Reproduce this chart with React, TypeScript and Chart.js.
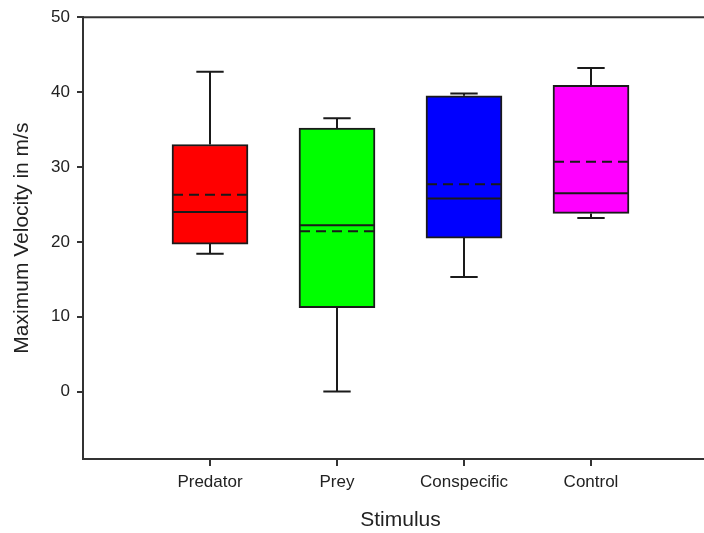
import React, { useEffect, useRef } from "react";
import { Chart, registerables } from "chart.js";

Chart.register(...registerables);

const categories = ["Predator", "Prey", "Conspecific", "Control"];
const whiskerLow = [18.4, 0.0, 15.3, 23.2];
const q1 = [19.7, 11.2, 20.5, 23.8];
const median = [24.0, 22.2, 25.8, 26.5];
const mean = [26.3, 21.4, 27.7, 30.7];
const q3 = [33.0, 35.2, 39.5, 40.9];
const whiskerHigh = [42.7, 36.5, 39.8, 43.2];
const boxColors = ["#FF0000", "#00FF00", "#0000FF", "#FF00FF"];
const yTicks = [0, 10, 20, 30, 40, 50];
const xTicks = [1, 2, 3, 4];

const FONT = "'Liberation Sans', Arial, sans-serif";
const LINE = "#1a1a1a";
const AXIS = "#333333";

const boxPlugin = {
  id: "boxExtras",
  afterDatasetsDraw(chart: any) {
    const { ctx, scales, chartArea } = chart;
    const x = scales.x;
    const y = scales.y;
    const meta = chart.getDatasetMeta(0);
    ctx.save();
    // top frame line
    ctx.strokeStyle = AXIS;
    ctx.lineWidth = 2;
    ctx.beginPath();
    ctx.moveTo(chartArea.left, y.getPixelForValue(50));
    ctx.lineTo(chartArea.right, y.getPixelForValue(50));
    ctx.stroke();

    ctx.strokeStyle = LINE;
    ctx.lineWidth = 2;
    categories.forEach((_, i) => {
      const el = meta.data[i];
      const cx = x.getPixelForValue(xTicks[i]);
      const w = el ? el.width : 76;
      const capHalf = w * 0.18;
      const left = cx - w / 2;
      const right = cx + w / 2;
      const pLow = y.getPixelForValue(whiskerLow[i]);
      const pQ1 = y.getPixelForValue(q1[i]);
      const pQ3 = y.getPixelForValue(q3[i]);
      const pHigh = y.getPixelForValue(whiskerHigh[i]);
      const pMed = y.getPixelForValue(median[i]);
      const pMean = y.getPixelForValue(mean[i]);
      ctx.setLineDash([]);
      ctx.beginPath();
      ctx.moveTo(cx, pQ3);
      ctx.lineTo(cx, pHigh);
      ctx.moveTo(cx - capHalf, pHigh);
      ctx.lineTo(cx + capHalf, pHigh);
      ctx.moveTo(cx, pQ1);
      ctx.lineTo(cx, pLow);
      ctx.moveTo(cx - capHalf, pLow);
      ctx.lineTo(cx + capHalf, pLow);
      ctx.moveTo(left, pMed);
      ctx.lineTo(right, pMed);
      ctx.stroke();
      ctx.setLineDash([10, 6]);
      ctx.beginPath();
      ctx.moveTo(left + 1, pMean);
      ctx.lineTo(right, pMean);
      ctx.stroke();
    });
    ctx.restore();
  },
};

export default function App() {
  const ref = useRef<HTMLCanvasElement | null>(null);
  useEffect(() => {
    if (!ref.current) return;
    const chart = new Chart(ref.current, {
      type: "bar",
      data: {
        datasets: [
          {
            data: categories.map((_, i) => ({ x: xTicks[i], y: [q1[i], q3[i]] })) as any,
            backgroundColor: boxColors,
            borderColor: LINE,
            borderWidth: 2,
            borderSkipped: false,
            barThickness: 76,
          },
        ],
      },
      options: {
        animation: false,
        responsive: false,
        layout: { padding: { top: 16, right: 0, left: 0, bottom: 0 } },
        plugins: { legend: { display: false }, tooltip: { enabled: false } },
        scales: {
          x: {
            type: "linear",
            min: 0,
            max: 5,
            offset: false,
            afterBuildTicks: (s: any) => {
              s.ticks = xTicks.map((v) => ({ value: v }));
            },
            afterFit: (s: any) => {
              s.height = 74;
            },
            ticks: {
              callback: (v: any) => categories[Number(v) - 1] ?? "",
              font: { family: FONT, size: 17 },
              color: "#222",
              padding: 6,
              maxRotation: 0,
              autoSkip: false,
            },
            grid: {
              offset: false,
              drawOnChartArea: false,
              drawTicks: true,
              tickLength: 7,
              color: AXIS,
              lineWidth: 2,
            },
            border: { display: true, color: AXIS, width: 2 },
            title: {
              display: true,
              text: "Stimulus",
              font: { family: FONT, size: 21 },
              color: "#222",
              padding: { top: 0, bottom: 0 },
            },
          },
          y: {
            type: "linear",
            min: -9,
            max: 50,
            afterBuildTicks: (s: any) => {
              s.ticks = yTicks.map((v) => ({ value: v }));
            },
            afterFit: (s: any) => {
              s.width = 83;
            },
            ticks: {
              font: { family: FONT, size: 17 },
              color: "#222",
              padding: 7,
            },
            grid: {
              drawOnChartArea: false,
              drawTicks: true,
              tickLength: 6,
              color: AXIS,
              lineWidth: 2,
            },
            border: { display: true, color: AXIS, width: 2 },
            title: {
              display: true,
              text: "Maximum Velocity in m/s",
              font: { family: FONT, size: 21 },
              color: "#222",
              padding: { top: 10, bottom: 0 },
            },
          },
        },
      },
      plugins: [boxPlugin],
    });
    return () => chart.destroy();
  }, []);
  return (
    <div
      style={{
        position: "fixed",
        left: 0,
        top: 0,
        width: 704,
        height: 533,
        overflow: "hidden",
        background: "#fff",
      }}
    >
      <canvas ref={ref} width={718} height={533} style={{ display: "block" }} />
    </div>
  );
}
